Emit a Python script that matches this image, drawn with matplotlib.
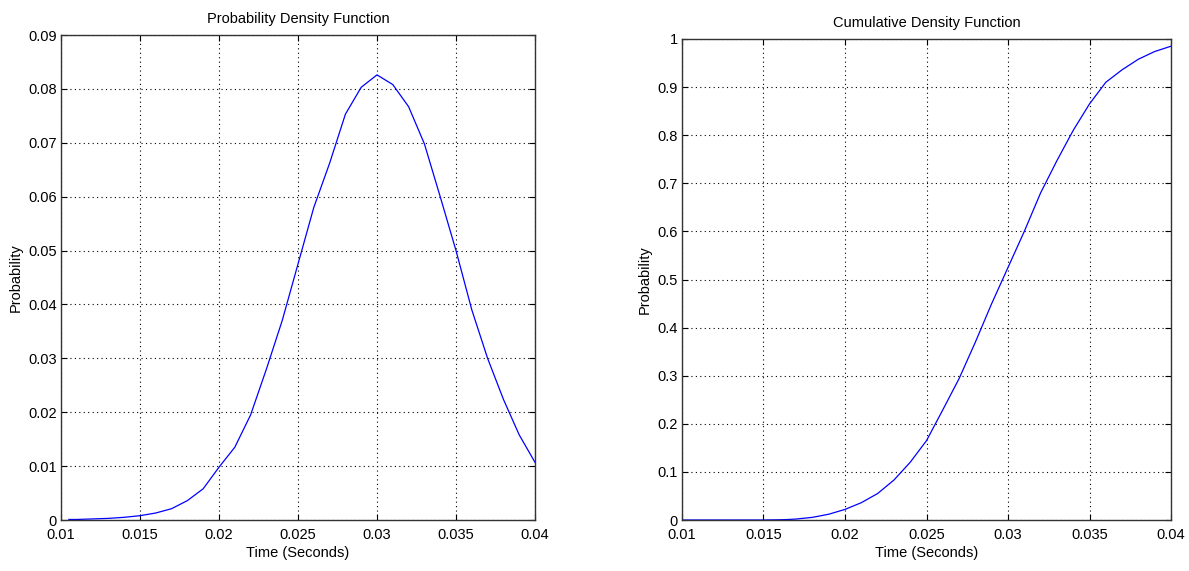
import matplotlib
matplotlib.use("Agg")
import matplotlib.pyplot as plt
from matplotlib.ticker import FixedLocator, FixedFormatter

plt.rcParams['font.family'] = ['Liberation Sans', 'DejaVu Sans']

# PDF samples
pdf_time = [0.0105, 0.011, 0.012, 0.013, 0.014, 0.015, 0.016, 0.017, 0.018, 0.019,
            0.020, 0.021, 0.022, 0.023, 0.024, 0.025, 0.026, 0.027, 0.028, 0.029,
            0.030, 0.031, 0.032, 0.033, 0.034, 0.035, 0.036, 0.037, 0.038, 0.039, 0.040]
pdf_prob = [0.0001, 0.0001, 0.0002, 0.0003, 0.0005, 0.0008, 0.0013, 0.0021, 0.0036, 0.0058,
            0.0098, 0.0135, 0.0195, 0.0280, 0.0370, 0.0475, 0.0580, 0.0662, 0.0753, 0.0803,
            0.0826, 0.0808, 0.0767, 0.0698, 0.0600, 0.0500, 0.0390, 0.0300, 0.0224, 0.0158, 0.0107]

# CDF samples
cdf_time = [0.010, 0.011, 0.012, 0.013, 0.014, 0.015, 0.016, 0.0165, 0.017, 0.018, 0.019,
            0.020, 0.021, 0.022, 0.023, 0.024, 0.025, 0.026, 0.027, 0.028, 0.029,
            0.030, 0.031, 0.032, 0.033, 0.034, 0.035, 0.036, 0.037, 0.038, 0.039, 0.040]
cdf_prob = [0.0, 0.0, 0.0, 0.0, 0.0, 0.0, 0.0005, 0.001, 0.002, 0.0055, 0.012,
            0.022, 0.036, 0.055, 0.083, 0.120, 0.165, 0.229, 0.294, 0.370, 0.450,
            0.525, 0.600, 0.680, 0.747, 0.810, 0.865, 0.910, 0.936, 0.958, 0.974, 0.985]

x_ticks = [0.01, 0.015, 0.02, 0.025, 0.03, 0.035, 0.04]
x_labels = ['0.01', '0.015', '0.02', '0.025', '0.03', '0.035', '0.04']
pdf_yticks = [0, 0.01, 0.02, 0.03, 0.04, 0.05, 0.06, 0.07, 0.08, 0.09]
pdf_ylabels = ['0', '0.01', '0.02', '0.03', '0.04', '0.05', '0.06', '0.07', '0.08', '0.09']
cdf_yticks = [0, 0.1, 0.2, 0.3, 0.4, 0.5, 0.6, 0.7, 0.8, 0.9, 1.0]
cdf_ylabels = ['0', '0.1', '0.2', '0.3', '0.4', '0.5', '0.6', '0.7', '0.8', '0.9', '1']

fig = plt.figure(figsize=(11.89, 5.71), dpi=100)
fig.patch.set_facecolor('white')

ax1 = fig.add_axes([61/1189, 51/571, 474/1189, 485/571])
ax2 = fig.add_axes([682/1189, 51/571, 489/1189, 481/571])

def style(ax, yt, yl, ymax, title):
    ax.set_xlim(0.01, 0.04)
    ax.set_ylim(0, ymax)
    ax.xaxis.set_major_locator(FixedLocator(x_ticks))
    ax.xaxis.set_major_formatter(FixedFormatter(x_labels))
    ax.yaxis.set_major_locator(FixedLocator(yt))
    ax.yaxis.set_major_formatter(FixedFormatter(yl))
    ax.tick_params(direction='in', top=True, right=True, length=4, width=0.8,
                   labelsize=10.5, colors='black')
    ax.tick_params(axis='x', pad=6)
    ax.tick_params(axis='y', pad=3)
    ax.grid(True, linestyle=(0, (1, 3)), color='black', linewidth=0.8)
    for s in ax.spines.values():
        s.set_color('#333333')
        s.set_linewidth(1.0)
    ax.set_title(title, fontsize=10.5, pad=9)
    ax.set_xlabel('Time (Seconds)', fontsize=10.5, labelpad=3)
    ax.set_ylabel('Probability', fontsize=10.5, labelpad=4)

ax1.plot(pdf_time, pdf_prob, color='#0000ff', linewidth=0.9)
style(ax1, pdf_yticks, pdf_ylabels, 0.09, 'Probability Density Function')

ax2.plot(cdf_time, cdf_prob, color='#0000ff', linewidth=0.9)
style(ax2, cdf_yticks, cdf_ylabels, 1.0, 'Cumulative Density Function')

fig.savefig('out.png', dpi=100, facecolor='white')
